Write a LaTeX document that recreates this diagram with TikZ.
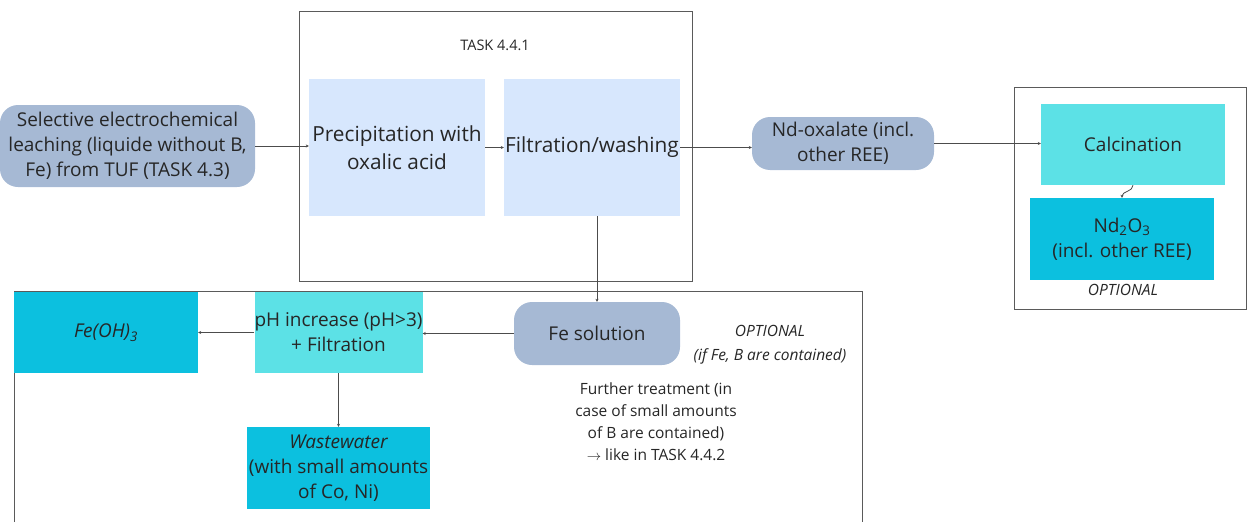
\documentclass[tikz,border=0pt]{standalone}
\usepackage{fontspec}
\setmainfont{Open Sans}
\usetikzlibrary{arrows.meta}
\definecolor{slateblue}{HTML}{A6B9D4}
\definecolor{paleblue}{HTML}{D7E7FD}
\definecolor{aqua}{HTML}{5CE1E6}
\definecolor{cyanblue}{HTML}{0CC0DF}
\definecolor{framegray}{HTML}{5A5A5A}
\begin{document}
\begin{tikzpicture}[x=1pt,y=-1pt,
    every node/.style={font=\fontsize{19}{25}\selectfont, text=black!85, align=center, inner sep=0pt},
    roundbox/.style={fill=slateblue, rounded corners=18pt},
    palebox/.style={fill=paleblue, font=\fontsize{20.8}{28}\selectfont},
    aquabox/.style={fill=aqua},
    cyanbox/.style={fill=cyanblue},
    frame/.style={draw=framegray, line width=0.9pt},
    flow/.style={draw=black!70, line width=0.8pt, -{Stealth[length=3pt,width=3pt]}},
    note/.style={font=\fontsize{15.5}{22}\selectfont}]
  \useasboundingbox (0,0) rectangle (1247,522);
  % frames
  \draw[frame] (299,11) rectangle (692,281);
  \draw[frame] (1014,87) rectangle (1246.5,309);
  \draw[frame] (14,522) -- (14,291) -- (862,291) -- (862,522);
  % task 4.4.1
  \node[roundbox, minimum width=255pt, minimum height=82pt] (leach) at (127.5,146)
    {Selective electrochemical\\leaching (liquide without B,\\Fe) from TUF (TASK 4.3)};
  \node[note, font=\fontsize{14.5}{20}\selectfont] (task) at (495,45) {TASK 4.4.1};
  \node[palebox, minimum width=176pt, minimum height=137pt] (precip) at (397,147.5) {Precipitation with\\oxalic acid};
  \node[palebox, minimum width=176pt, minimum height=137pt] (filt) at (592,147.5) {Filtration/washing};
  \node[roundbox, minimum width=182pt, minimum height=53pt] (oxal) at (843,143.5) {Nd-oxalate (incl.\\other REE)};
  % optional calcination
  \node[aquabox, minimum width=184pt, minimum height=81pt] (calc) at (1133,144.5) {Calcination};
  \node[cyanbox, minimum width=184pt, minimum height=82pt] (ndox) at (1122,239) {Nd\textsubscript{2}O\textsubscript{3}\\(incl. other REE)};
  \node[note, font=\fontsize{15.5}{22}\selectfont\itshape] (opt1) at (1123,290) {OPTIONAL};
  % iron removal
  \node[cyanbox, minimum width=184pt, minimum height=81pt] (feoh) at (106,332.5) {\itshape Fe(OH)\textsubscript{3}};
  \node[aquabox, minimum width=167pt, minimum height=81pt] (ph) at (338.5,332.5) {pH increase (pH>3)\\+ Filtration};
  \node[roundbox, minimum width=166pt, minimum height=63pt] (fesol) at (597,333.5) {Fe solution};
  \node[cyanbox, minimum width=183pt, minimum height=82pt] (waste) at (338.5,468) {\itshape Wastewater\\(with small amounts\\of Co, Ni)};
  \node[note, font=\fontsize{15.5}{24}\selectfont\itshape] (opt2) at (770,345) {OPTIONAL\\(if Fe, B are contained)};
  \node[note] (further) at (656,422) {Further treatment (in\\case of small amounts\\of B are contained)\\$\rightarrow$ like in TASK 4.4.2};
  % connectors
  \draw[flow] (leach.east) -- (leach.east -| precip.west);
  \draw[flow] (precip) -- (filt);
  \draw[flow] (filt.east) -- (filt.east -| oxal.west);
  \draw[flow] (oxal) -- (oxal -| calc.west);
  \draw[flow] (calc.south) to[out=-90, in=90] (ndox.north);
  \draw[flow] (fesol.north |- filt.south) -- (fesol.north);
  \draw[flow] (fesol.west) -- (fesol.west -| ph.east);
  \draw[flow] (ph) -- (feoh);
  \draw[flow] (ph) -- (waste);
\end{tikzpicture}
\end{document}
